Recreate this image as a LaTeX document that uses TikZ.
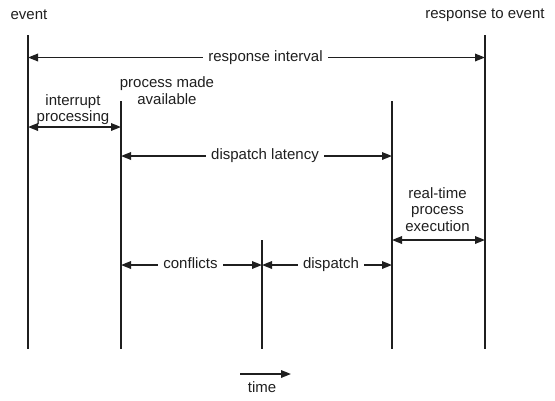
\documentclass[tikz,border=0pt]{standalone}
\usepackage{fontspec}
\setmainfont{Liberation Sans}
\usetikzlibrary{arrows.meta}
\begin{document}
\begin{tikzpicture}[x=1pt,y=-1pt,
  vline/.style={line width=1.7pt, draw=black!88},
  dim/.style={line width=1.7pt, draw=black!88, {Triangle[length=10pt,width=7.5pt]}-{Triangle[length=10pt,width=7.5pt]}},
  onearrow/.style={line width=1.7pt, draw=black!88, -{Triangle[length=10pt,width=7.5pt]}},
  lbl/.style={font=\fontsize{15}{16.5}\selectfont, text=black!88, fill=white, inner sep=5pt, text height=11pt, text depth=3.5pt, anchor=center},
  txt/.style={font=\fontsize{15}{16.5}\selectfont, text=black!88, align=center, inner sep=0pt}]
\useasboundingbox (0,0) rectangle (555,400);
% vertical lines
\coordinate (evT) at (28,35);    \coordinate (evB) at (28,349);
\coordinate (paT) at (121,101);  \coordinate (paB) at (121,349);
\coordinate (cdT) at (262,240);  \coordinate (cdB) at (262,349);
\coordinate (ruT) at (392,101);  \coordinate (ruB) at (392,349);
\coordinate (reT) at (485,35);   \coordinate (reB) at (485,349);
\draw[vline] (evT) -- (evB);
\draw[vline] (paT) -- (paB);
\draw[vline] (cdT) -- (cdB);
\draw[vline] (ruT) -- (ruB);
\draw[vline] (reT) -- (reB);
% arrow end points
\coordinate (ri1) at (28,57.5);   \coordinate (ri2) at (485,57.5);
\coordinate (ip1) at (28,127);    \coordinate (ip2) at (121,127);
\coordinate (dl1) at (121,156);   \coordinate (dl2) at (392,156);
\coordinate (rt1) at (392,240);   \coordinate (rt2) at (485,240);
\coordinate (cf1) at (121,265);   \coordinate (cf2) at (262,265);
\coordinate (dp1) at (262,265);   \coordinate (dp2) at (392,265);
\coordinate (tm1) at (240,374);   \coordinate (tm2) at (291,374);
\draw[dim] (ri1) -- (ri2);
\draw[dim] (ip1) -- (ip2);
\draw[dim] (dl1) -- (dl2);
\draw[dim] (rt1) -- (rt2);
\draw[dim] (cf1) -- (cf2);
\draw[dim] (dp1) -- (dp2);
\draw[onearrow] (tm1) -- (tm2);
% labels on arrows
\node[lbl] (lri) at (265.5,57.5) {response interval};
\node[lbl] (ldl) at (265,156) {dispatch latency};
\node[lbl] (lcf) at (190.5,265) {conflicts};
\node[lbl] (ldp) at (331,265) {dispatch};
% other texts
\node[txt] (tev) at (29,15) {event};
\node[txt] (tre) at (485,15) {response to event};
\node[txt] (tip) at (73,109.5) {interrupt\\processing};
\node[txt] (tpa) at (167,90.5) {process made\\available};
\node[txt] (trt) at (437.5,209.5) {real-time\\process\\execution};
\node[txt] (ttm) at (262,387) {time};
\end{tikzpicture}
\end{document}
